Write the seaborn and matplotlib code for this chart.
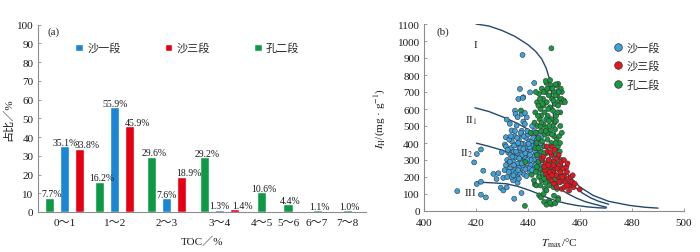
import matplotlib
matplotlib.use("Agg")
import matplotlib.pyplot as plt
import numpy as np
import pandas as pd
import seaborn as sns
from matplotlib.lines import Line2D

# ---------------- data: panel (a) ----------------
toc_bins = ["0～1", "1～2", "2～3", "3～4", "4～5", "5～6", "6～7", "7～8"]
series_names = ["沙一段", "沙三段", "孔二段"]
pct_s1 = [35.1, 55.9, 7.6, 1.3, None, None, None, None]
pct_s3 = [33.8, 45.9, 18.9, 1.4, None, None, None, None]
pct_k2 = [7.7, 16.2, 29.6, 29.2, 10.6, 4.4, 1.1, 1.0]

# ---------------- data: panel (b) ----------------
tmax_s1 = [412.8, 419.3, 420.3, 420.3, 421.9, 421.9, 421.9, 422.8, 423.8, 426.7,
           428.6, 427.9, 429.5, 430.5, 431.8, 429.9, 432.4, 431.1, 431.5, 431.8,
           433.0, 433.7, 434.3, 436.0, 434.7, 437.5, 437.9, 436.9, 438.2, 436.3,
           438.0, 440.8, 442.4, 451.7, 435.0, 435.2, 437.6, 436.0, 439.5, 438.8,
           438.2, 438.8, 435.6, 437.6,
           432.0, 432.5, 433.0, 433.2, 433.5, 433.8, 434.0, 434.2, 434.5, 434.8,
           435.0, 435.2, 435.5, 435.8, 436.0, 436.2, 436.5, 436.8, 437.0, 437.2,
           437.5, 437.8, 438.0, 438.2, 438.5, 438.8, 439.0, 439.2, 439.5, 439.8,
           440.0, 440.2, 440.5, 440.8, 441.0, 441.2, 441.5, 441.8, 442.0, 442.2,
           442.5, 442.8, 443.0, 443.2, 443.5, 443.8, 444.0, 444.3, 444.6, 445.0,
           445.3, 445.6, 446.0, 433.6, 435.4, 437.4, 439.4, 441.4, 443.4, 436.6,
           438.6, 440.6, 442.6, 444.6, 432.8, 434.6, 436.4, 438.4, 440.4, 442.4,
           444.4, 445.8, 437.0, 439.0, 441.0, 443.0, 435.0, 440.0, 431.5, 431.0,
           430.5, 432.0, 436.5,
           431.5, 432.2, 433.0, 434.0, 434.6, 435.4, 436.2, 436.8, 437.6, 438.2,
           439.0, 439.6, 440.2, 440.8, 441.6, 442.0, 442.8, 443.6, 444.2, 445.0,
           433.4, 435.8, 437.2, 439.8, 441.6, 443.6, 445.4, 432.6, 434.4, 436.2]
hi_s1 = [117, 286, 335, 159, 172, 362, 96, 237, 80, 218,
         222, 188, 137, 121, 139, 345, 345, 391, 434, 538,
         513, 474, 180, 166, 72, 106, 918, 718, 669, 659,
         665, 698, 753, 708, 590, 571, 571, 552, 551, 577,
         526, 512, 502, 472,
         300, 280, 250, 330, 370, 410, 230, 295, 350, 440,
         260, 315, 390, 205, 340, 280, 420, 360, 240, 300,
         450, 330, 270, 395, 215, 350, 310, 430, 255, 375,
         290, 335, 410, 230, 360, 270, 455, 320, 385, 250,
         300, 420, 345, 280, 370, 235, 310, 400, 265, 340,
         440, 300, 380, 200, 225, 395, 205, 410, 460, 310,
         290, 375, 355, 350, 420, 385, 255, 440, 250, 470,
         215, 260, 370, 340, 300, 395, 470, 450, 270, 240,
         195, 200, 190,
         380, 360, 290, 320, 270, 350, 400, 225, 280, 365,
         245, 300, 395, 330, 240, 430, 270, 330, 290, 400,
         440, 430, 460, 470, 500, 420, 470, 230, 210, 240]

tmax_s3 = [445.2, 449.3, 459.9, 446.0, 446.8, 447.5, 448.0, 448.5, 449.0, 449.5,
           450.0, 450.5, 451.0, 451.5, 452.0, 452.5, 453.0, 453.5, 454.0, 454.5,
           455.0, 455.5, 456.0, 456.5, 457.0, 457.5, 458.0, 447.0, 448.0, 449.0,
           450.0, 451.0, 452.0, 453.0, 454.0, 447.2, 448.6, 450.3, 451.8, 446.5,
           452.8, 454.8, 455.8, 450.8, 449.8, 448.3, 446.2, 453.8, 455.2, 457.2,
           451.2, 449.2, 447.8, 453.2, 455.0]
hi_s3 = [307, 376, 127, 320, 280, 350, 300, 260, 330, 230,
         290, 250, 310, 200, 270, 230, 180, 250, 210, 170,
         230, 190, 150, 200, 170, 140, 160, 220, 200, 180,
         160, 140, 170, 130, 140, 380, 345, 360, 330, 240,
         290, 260, 120, 210, 270, 230, 260, 300, 280, 210,
         250, 210, 270, 200, 150]

tmax_k2 = [449.0, 447.1, 451.6, 446.8, 448.5, 438.8, 444.3, 446.2, 447.1, 449.0,
           451.6, 451.6, 441.4, 442.6, 443.2, 446.5, 447.1, 445.0, 448.0, 450.0,
           446.0, 448.5, 450.5, 439.0, 437.3, 441.0,
           443.5, 444.2, 444.8, 445.3, 445.8, 446.3, 446.8, 447.2, 447.6, 448.0,
           448.4, 448.8, 449.2, 449.6, 450.0, 450.4, 450.8, 451.2, 451.6, 452.0,
           452.4, 442.8, 443.0, 446.0, 447.0, 449.0, 450.2, 448.2, 445.0, 444.0,
           452.8, 453.2, 451.0, 450.6, 453.8, 454.2, 453.0, 452.6,
           442.5, 443.0, 443.6, 444.0, 444.5, 445.0, 445.5, 446.0, 446.5, 447.0,
           447.5, 448.0, 448.5, 449.0, 449.5, 450.0, 450.5, 451.0, 451.5, 452.0,
           443.3, 446.3, 448.8, 444.8, 447.8, 450.8, 452.3,
           442.8, 443.5, 444.0, 444.5, 445.0, 445.5, 446.0, 446.5, 447.0, 447.5,
           448.0, 448.5, 449.0, 449.5, 450.0, 450.5, 451.0, 451.5, 452.0, 452.5,
           453.0, 443.0, 444.2, 445.2, 446.8, 448.2, 449.8, 451.2, 452.8, 453.5,
           454.0, 442.3,
           444.6, 446.0, 447.4, 449.4, 450.6, 451.8, 445.6, 447.8, 449.8, 451.4,
           443.8, 445.2, 446.8, 448.2, 449.2, 450.6, 452.4, 453.0, 444.0, 446.2,
           448.6, 450.8, 452.2, 443.4, 445.6, 447.4, 444.8, 446.2, 448.4, 450.4]
hi_k2 = [957, 753, 748, 765, 770, 30, 92, 53, 37, 39,
         76, 66, 213, 157, 150, 131, 121, 80, 60, 90,
         100, 48, 45, 288, 591, 460,
         640, 690, 600, 720, 660, 580, 700, 640, 560, 680,
         610, 740, 660, 590, 700, 630, 560, 680, 620, 650,
         580, 580, 700, 620, 540, 540, 520, 720, 560, 620,
         660, 640, 740, 745, 650, 640, 700, 720,
         520, 460, 500, 430, 540, 470, 410, 510, 450, 490,
         420, 530, 470, 400, 500, 440, 480, 420, 380, 440,
         400, 380, 380, 500, 455, 530, 400,
         370, 330, 290, 250, 350, 300, 230, 270, 340, 200,
         300, 250, 180, 330, 220, 160, 280, 200, 240, 170,
         210, 230, 200, 180, 165, 150, 140, 130, 300, 250,
         180, 180,
         660, 700, 720, 720, 680, 700, 630, 600, 650, 580,
         560, 520, 470, 500, 450, 400, 500, 460, 370, 340,
         290, 330, 350, 260, 220, 250, 150, 190, 180, 190]

# kerogen-type boundary curves (Tmax, HI)
curve_I_t = [420, 425, 430, 435, 440, 443, 445.3, 447, 448.2, 449.0, 449.5, 449.9,
             450.4, 451.1, 452.1, 453.6, 456, 460, 465, 471, 479, 485, 490]
curve_I_h = [1100, 1088, 1062, 1027, 978, 938, 894, 840, 780, 700, 620, 540,
             460, 380, 315, 257, 200, 141, 92, 57, 33, 22, 17]
curve_II1_t = [419.6, 425, 430.5, 436, 440.7, 444, 447.1, 449, 451, 453, 455, 458,
               461, 464, 467, 471]
curve_II1_h = [607, 585, 552, 515, 474, 430, 376, 325, 268, 220, 180, 140,
               105, 78, 58, 40]
curve_II2_t = [420.2, 425, 430.5, 434, 438.2, 442, 445.8, 449, 452.2, 455.5,
               458.6, 462, 466.3, 470.2]
curve_II2_h = [399, 380, 356, 335, 307, 262, 209, 168, 131, 100, 76, 55, 37, 22]
curve_III_t = [420.2, 426, 431.8, 436, 440.7, 443.5, 445.8, 448.5, 451, 454.5,
               458.6, 463, 467, 470]
curve_III_h = [170, 166, 160, 145, 121, 104, 88, 73, 59, 45, 33, 24, 19, 17]

# ---------------- style ----------------
sns.set_style("ticks")
plt.rcParams["font.family"] = ["Liberation Serif", "Noto Sans CJK SC", "DejaVu Sans"]
plt.rcParams["mathtext.fontset"] = "stix"
plt.rcParams["font.size"] = 8
plt.rcParams["xtick.direction"] = "in"
plt.rcParams["ytick.direction"] = "in"
plt.rcParams["axes.edgecolor"] = "#8c8c8c"
plt.rcParams["axes.linewidth"] = 0.8
plt.rcParams["xtick.color"] = "#8c8c8c"
plt.rcParams["ytick.color"] = "#8c8c8c"
plt.rcParams["xtick.labelcolor"] = "#1a1a1a"
plt.rcParams["ytick.labelcolor"] = "#1a1a1a"

bar_palette = {"沙一段": "#1a86d6", "沙三段": "#e60012", "孔二段": "#0e9a45"}
pt_palette = {"沙一段": "#3ea2dc", "沙三段": "#e8141e", "孔二段": "#17993f"}
curve_color = "#23496e"

fig = plt.figure(figsize=(7.0, 2.53), dpi=100)
fig.patch.set_facecolor("white")

# ---------------- panel (a) ----------------
group_centers = [0.0, 0.96, 1.96, 2.98, 3.79, 4.29, 4.85, 5.44]
bar_offset = {"孔二段": -0.29, "沙一段": 0.0, "沙三段": 0.29}
label_shift = {"孔二段": 0.04, "沙一段": 0.0, "沙三段": 0.14}
draw_order = ["孔二段", "沙一段", "沙三段"]
value_map = {"沙一段": pct_s1, "沙三段": pct_s3, "孔二段": pct_k2}

rows = []
for i, cat in enumerate(toc_bins):
    present = [s for s in draw_order if value_map[s][i] is not None]
    for s in present:
        off = bar_offset[s] if len(present) > 1 else 0.0
        rows.append({"pos": round(group_centers[i] + off, 4), "series": s,
                     "pct": value_map[s][i], "bin": cat})
dfa = pd.DataFrame(rows)

ax1 = fig.add_axes([38.3 / 700, 40 / 253, 327.7 / 700, 187.3 / 253])
sns.barplot(data=dfa, x="pos", y="pct", hue="series", hue_order=series_names,
            palette=bar_palette, native_scale=True, dodge=False, width=0.6,
            errorbar=None, saturation=1, ax=ax1)
for _, r in dfa.iterrows():
    ax1.text(r["pos"] + label_shift[r["series"]], r["pct"] + 2.0, f"{r['pct']:.1f}%",
             ha="center", va="center", fontsize=7, color="#1a1a1a")

ax1.set_xlim(-0.51, 5.79)
ax1.set_ylim(0, 100)
ax1.set_yticks(np.arange(0, 101, 10))
ax1.set_xticks(group_centers)
ax1.set_xticklabels(toc_bins)
ax1.tick_params(axis="x", length=0, pad=4.5, labelsize=8)
ax1.tick_params(axis="y", length=2.5, width=0.6, pad=3.5, labelsize=8)
ax1.set_xlabel("TOC／%", fontsize=8, color="#1a1a1a")
ax1.set_ylabel("占比／%", fontsize=8, color="#1a1a1a")
ax1.xaxis.set_label_coords(0.5, -0.128)
ax1.yaxis.set_label_coords(-0.077, 0.5)
sns.despine(ax=ax1)
ax1.text(0.048, 0.966, "(a)", transform=ax1.transAxes, ha="center", va="center",
         fontsize=8)
h, l = ax1.get_legend_handles_labels()
ax1.legend(h, l, ncol=3, loc="center", bbox_to_anchor=(0.455, 0.876),
           frameon=False, handlelength=0.65, handleheight=0.65,
           handletextpad=0.4, columnspacing=4.0, fontsize=8)

# ---------------- panel (b) ----------------
dfb = pd.concat([
    pd.DataFrame({"Tmax": tmax_s1, "HI": hi_s1, "组": "沙一段"}),
    pd.DataFrame({"Tmax": tmax_k2, "HI": hi_k2, "组": "孔二段"}),
    pd.DataFrame({"Tmax": tmax_s3, "HI": hi_s3, "组": "沙三段"}),
], ignore_index=True)

ax2 = fig.add_axes([424 / 700, 41 / 253, 260 / 700, 187 / 253])
for ct, ch in [(curve_I_t, curve_I_h), (curve_II1_t, curve_II1_h),
               (curve_II2_t, curve_II2_h), (curve_III_t, curve_III_h)]:
    sns.lineplot(x=ct, y=ch, sort=False, estimator=None, color=curve_color,
                 linewidth=1.0, ax=ax2)
sns.scatterplot(data=dfb, x="Tmax", y="HI", hue="组", hue_order=series_names,
                palette=pt_palette, s=13, edgecolor="#333333", linewidth=0.4,
                legend=False, ax=ax2, zorder=3)

ax2.set_xlim(400, 500)
ax2.set_ylim(0, 1100)
ax2.set_xticks(np.arange(400, 501, 20))
ax2.set_yticks(np.arange(0, 1101, 100))
ax2.tick_params(axis="x", length=2.5, width=0.6, pad=5.0, labelsize=8)
ax2.tick_params(axis="y", length=2.5, width=0.6, pad=3.0, labelsize=8)
ax2.set_xlabel(r"$T_{\rm max}$/°C", fontsize=8, color="#1a1a1a")
ax2.set_ylabel(r"$I_{\rm H}$/(mg · g$^{-1}$)", fontsize=8, color="#1a1a1a")
ax2.xaxis.set_label_coords(0.52, -0.13)
ax2.yaxis.set_label_coords(-0.137, 0.5)
sns.despine(ax=ax2)
ax2.text(0.073, 0.963, "(b)", transform=ax2.transAxes, ha="center", va="center",
         fontsize=8)
for txt, tx, ty in [(r"$\mathrm{I}$", 420.0, 986), (r"$\mathrm{II}_1$", 418.3, 535),
                    (r"$\mathrm{II}_2$", 416.4, 341), (r"$\mathrm{III}$", 418.0, 114)]:
    ax2.text(tx, ty, txt, ha="center", va="center", fontsize=8, color="#333333")

handles = [Line2D([], [], linestyle="none", marker="o", markersize=5.5,
                  markerfacecolor=pt_palette[s], markeredgecolor="#333333",
                  markeredgewidth=0.5) for s in series_names]
ax2.legend(handles, series_names, loc="center", bbox_to_anchor=(0.815, 0.777),
           frameon=False, handlelength=1.0, handletextpad=0.3, labelspacing=0.7,
           fontsize=8)

fig.savefig("out.png", dpi=100, facecolor="white")
